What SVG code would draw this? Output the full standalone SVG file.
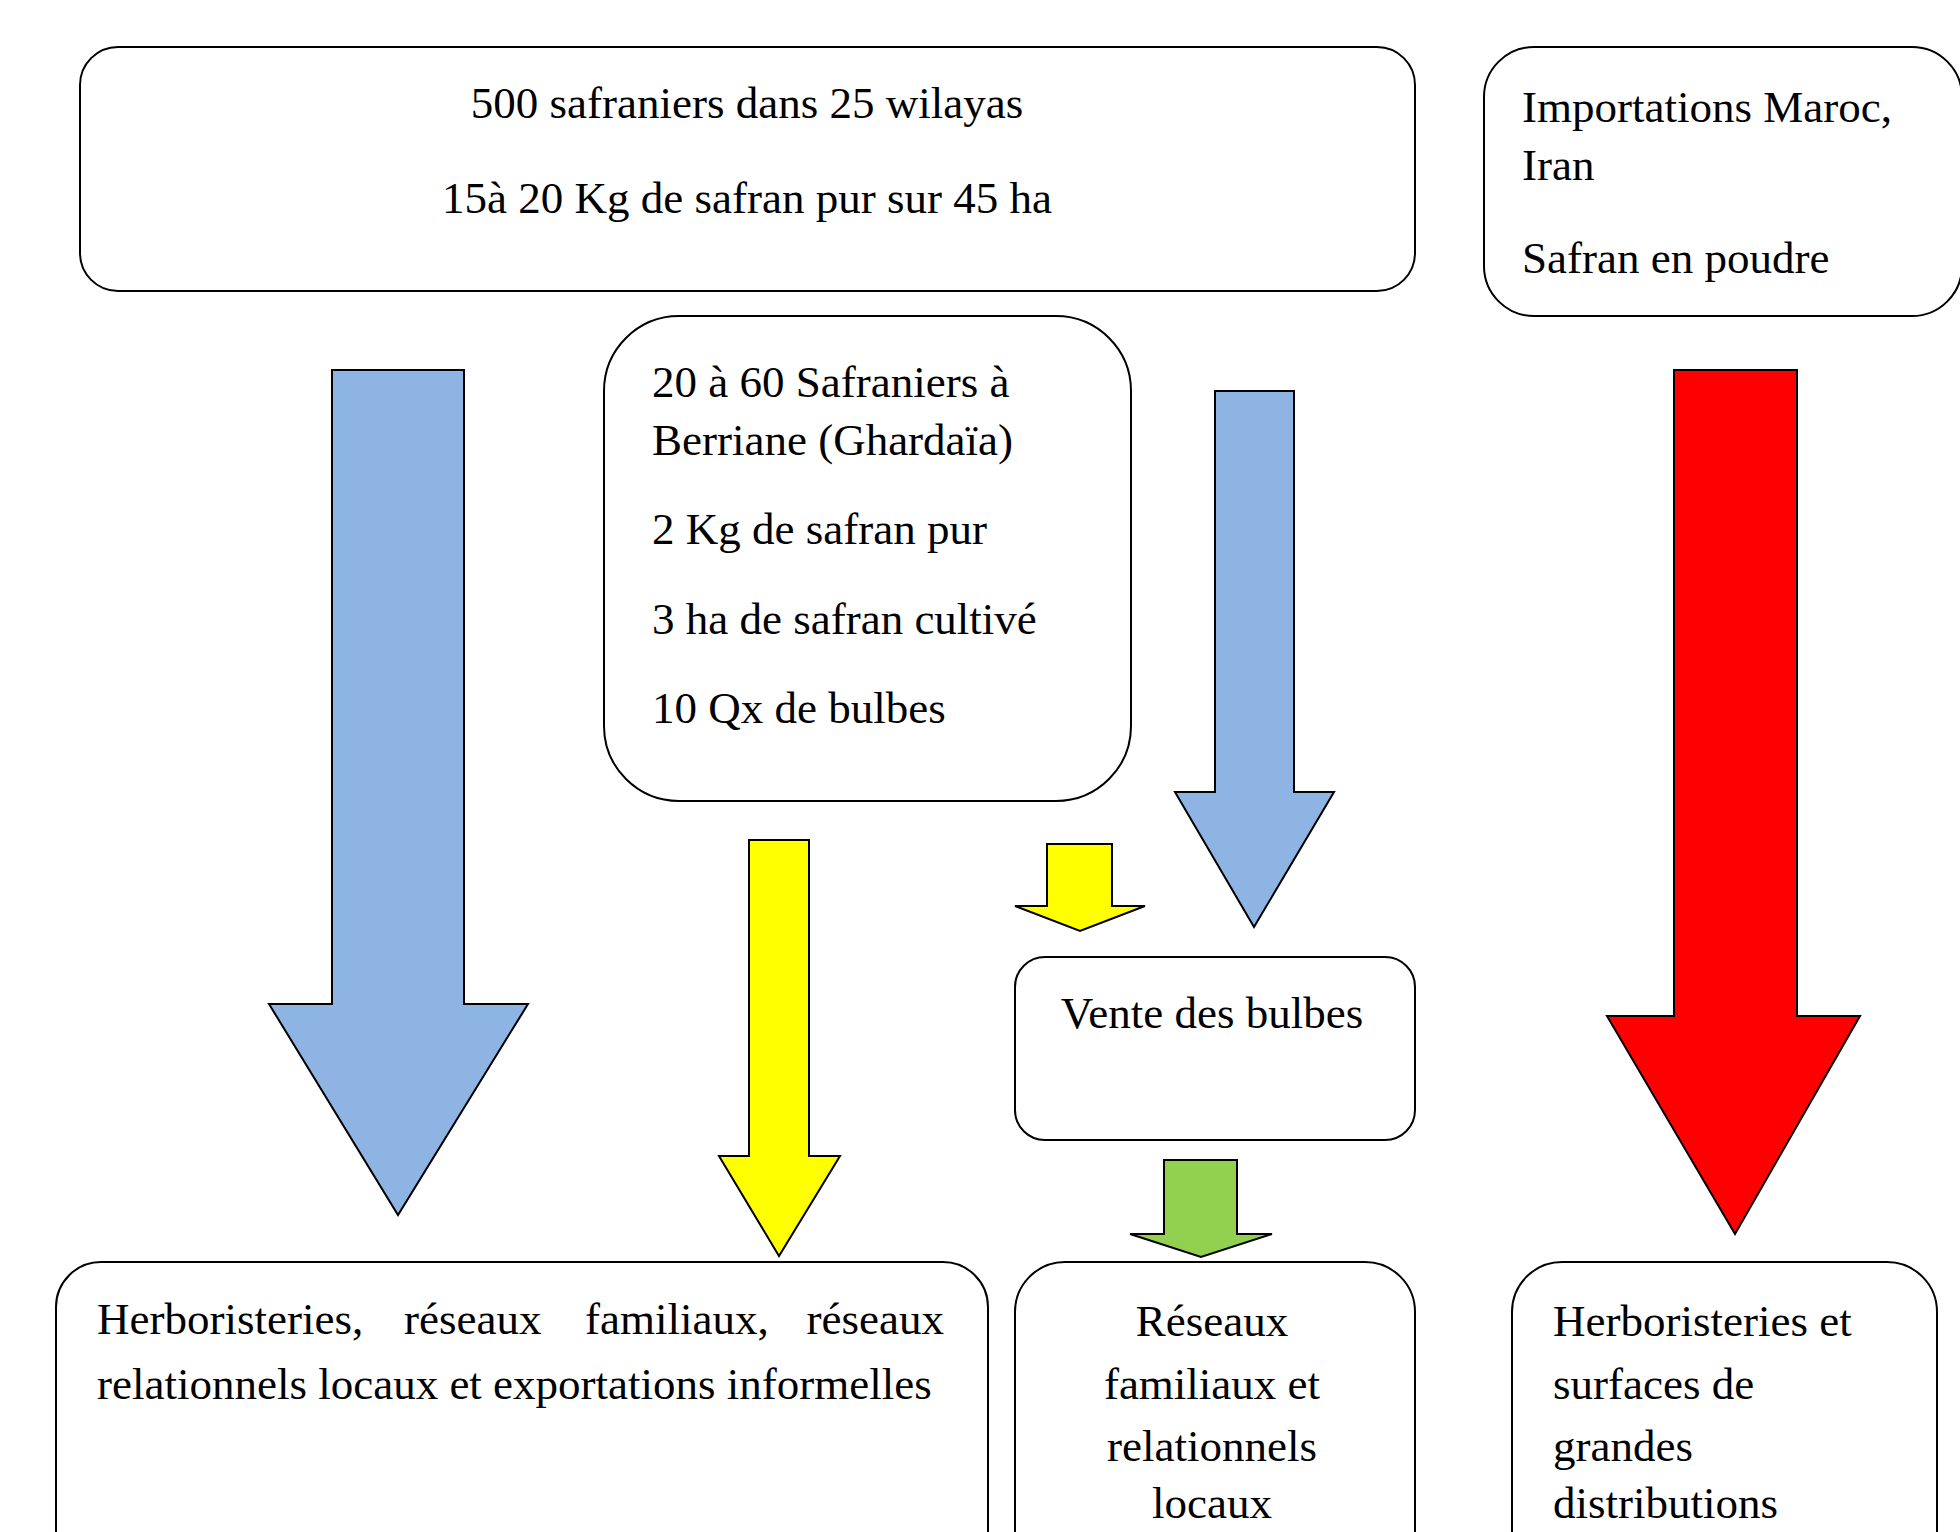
<svg xmlns="http://www.w3.org/2000/svg" width="1960" height="1532" viewBox="0 0 1960 1532">
<style>
.box{fill:#fff;stroke:#000;stroke-width:2}
.arr{stroke:#000;stroke-width:2;stroke-linejoin:miter}
.t{font-family:"Liberation Serif","Times New Roman",serif;font-size:45px;fill:#000}
.c{text-anchor:middle}
</style>
<rect width="1960" height="1532" fill="#fff"/>
<g id="connectors">
<polygon class="arr" fill="#8EB4E3" points="332,370 464,370 464,1004 528,1004 398,1215 269,1004 332,1004"/>
<polygon class="arr" fill="#FFFF00" points="749,840 809,840 809,1156 840,1156 779,1256 719,1156 749,1156"/>
<polygon class="arr" fill="#FFFF00" points="1047,844 1112,844 1112,906 1145,906 1080,931 1015,906 1047,906"/>
<polygon class="arr" fill="#8EB4E3" points="1215,391 1294,391 1294,792 1334,792 1254,927 1175,792 1215,792"/>
<polygon class="arr" fill="#92D050" points="1164,1160 1237,1160 1237,1234 1272,1234 1201,1257 1130,1234 1164,1234"/>
<polygon class="arr" fill="#FF0000" points="1674,370 1797,370 1797,1016 1860,1016 1735,1234 1607,1016 1674,1016"/>
</g>
<g id="n-top">
<rect class="box" x="80" y="47" width="1335" height="244" rx="38" ry="38"/>
<text class="t c" x="747" y="118">500 safraniers dans 25 wilayas</text>
<text class="t c" x="747" y="213">15à 20 Kg de safran pur sur 45 ha</text>
</g>
<g id="n-import">
<rect class="box" x="1484" y="47" width="478" height="269" rx="50" ry="50"/>
<text class="t" x="1522" y="122">Importations Maroc,</text>
<text class="t" x="1522" y="180">Iran</text>
<text class="t" x="1522" y="273">Safran en poudre</text>
</g>
<g id="n-berriane">
<rect class="box" x="604" y="316" width="527" height="485" rx="75" ry="75"/>
<text class="t" x="652" y="397">20 à 60 Safraniers à</text>
<text class="t" x="652" y="455">Berriane (Ghardaïa)</text>
<text class="t" x="652" y="544">2 Kg de safran pur</text>
<text class="t" x="652" y="634">3 ha de safran cultivé</text>
<text class="t" x="652" y="723">10 Qx de bulbes</text>
</g>
<g id="n-vente">
<rect class="box" x="1015" y="957" width="400" height="183" rx="30" ry="30"/>
<text class="t c" x="1212" y="1028">Vente des bulbes</text>
</g>
<g id="n-herbo1">
<rect class="box" x="56" y="1262" width="932" height="340" rx="45" ry="45"/>
<text class="t" y="1334"><tspan x="97">Herboristeries,</tspan><tspan x="404">réseaux</tspan><tspan x="585">familiaux,</tspan><tspan x="944" text-anchor="end">réseaux</tspan></text>
<text class="t" x="97" y="1399">relationnels locaux et exportations informelles</text>
</g>
<g id="n-reseaux">
<rect class="box" x="1015" y="1262" width="400" height="340" rx="50" ry="50"/>
<text class="t c" x="1212" y="1336">Réseaux</text>
<text class="t c" x="1212" y="1399">familiaux et</text>
<text class="t c" x="1212" y="1461">relationnels</text>
<text class="t c" x="1212" y="1518">locaux</text>
</g>
<g id="n-herbo2">
<rect class="box" x="1512" y="1262" width="425" height="340" rx="50" ry="50"/>
<text class="t" x="1553" y="1336">Herboristeries et</text>
<text class="t" x="1553" y="1399">surfaces de</text>
<text class="t" x="1553" y="1461">grandes</text>
<text class="t" x="1553" y="1518">distributions</text>
</g>
</svg>
